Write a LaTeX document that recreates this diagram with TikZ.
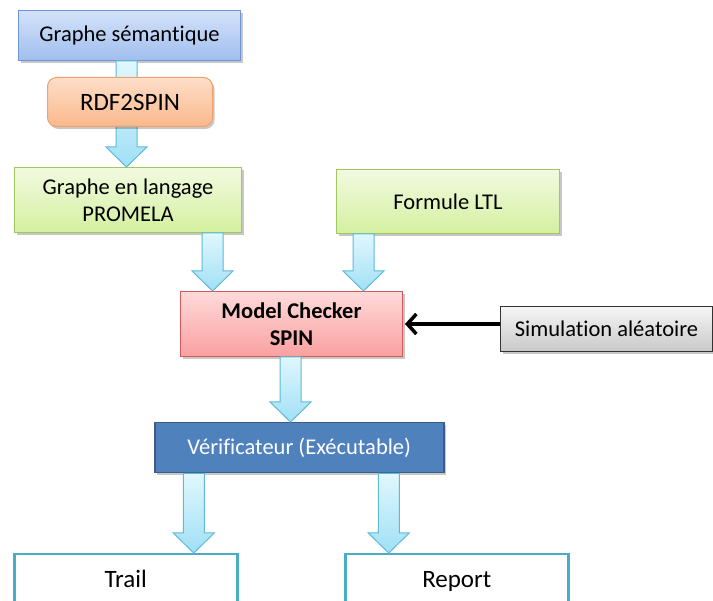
\documentclass[tikz,border=0pt]{standalone}
\usepackage{fontspec}
\setmainfont{Carlito}[Ligatures=NoCommon]
\usetikzlibrary{calc,shadows,arrows.meta}

\definecolor{bleuhaut}{RGB}{212,226,250}
\definecolor{bleubas}{RGB}{160,190,238}
\definecolor{bleubord}{RGB}{110,150,215}
\definecolor{orhaut}{RGB}{253,222,200}
\definecolor{orbas}{RGB}{250,184,140}
\definecolor{orbord}{RGB}{240,160,105}
\definecolor{verthaut}{RGB}{242,250,225}
\definecolor{vertbas}{RGB}{212,240,160}
\definecolor{vertbord}{RGB}{160,200,95}
\definecolor{rosehaut}{RGB}{255,218,218}
\definecolor{rosebas}{RGB}{250,160,160}
\definecolor{rosebord}{RGB}{210,90,90}
\definecolor{grishaut}{RGB}{246,246,246}
\definecolor{grisbas}{RGB}{200,200,200}
\definecolor{verif}{RGB}{79,129,189}
\definecolor{verifbord}{RGB}{56,93,138}
\definecolor{cyanhaut}{RGB}{224,247,253}
\definecolor{cyanbas}{RGB}{160,224,246}
\definecolor{cyanbord}{RGB}{95,185,215}
\definecolor{sortie}{RGB}{75,172,198}

\tikzset{
  boite/.style={draw, line width=1pt, align=center, inner sep=0pt, anchor=north west,
    font=\fontsize{22.5}{27}\selectfont},
  ombre/.style={drop shadow={shadow xshift=2pt,shadow yshift=-2.5pt,fill=black,opacity=0.22}},
  sortiebox/.style={boite, draw=sortie, fill=white, line width=2.5pt, text height=17pt, text depth=5pt,
    minimum width=223, minimum height=55, font=\fontsize{25}{30}\selectfont},
  flechebleue/.style={draw=cyanbord, line width=1pt, top color=cyanhaut, bottom color=cyanbas, line join=miter},
}

% grosse fleche verticale de #1 vers #2
\newcommand{\grossefleche}[2]{%
  \draw[flechebleue] ($(#1)+(-10.5,0)$) -- ($(#2)+(-10.5,-20)$) -- ($(#2)+(-20.5,-20)$) -- (#2)
    -- ($(#2)+(20.5,-20)$) -- ($(#2)+(10.5,-20)$) -- ($(#1)+(10.5,0)$) -- cycle;}

\begin{document}
\begin{tikzpicture}[x=1pt,y=-1pt]
\useasboundingbox (0,0) rectangle (713,601);

%boxes
\node[boite, ombre, draw=bleubord, top color=bleuhaut, bottom color=bleubas,
  minimum width=222, minimum height=50] (sem) at (18,10) {Graphe sémantique};
\node[boite, ombre, draw=vertbord, top color=verthaut, bottom color=vertbas,
  minimum width=227, minimum height=65] (promela) at (14,167) {Graphe en langage\\PROMELA};
\node[boite, ombre, draw=vertbord, top color=verthaut, bottom color=vertbas,
  minimum width=223, minimum height=64] (ltl) at (336,169) {Formule LTL};
\node[boite, ombre, draw=rosebord, top color=rosehaut, bottom color=rosebas,
  minimum width=222, minimum height=65, font=\fontsize{22.5}{27}\selectfont\bfseries] (model) at (180,291) {Model Checker\\SPIN};
\node[boite, ombre, draw=black!80, top color=grishaut, bottom color=grisbas,
  minimum width=212, minimum height=45] (sim) at (500,306) {Simulation aléatoire};
\node[boite, ombre, draw=verifbord, fill=verif, text=white, line width=1.5pt,
  minimum width=289, minimum height=50] (verif) at (154,422) {Vérificateur (Exécutable)};
\node[sortiebox] (trail) at (13,553) {Trail};
\node[sortiebox] (report) at (344,553) {Report};

%arrows
\coordinate (f1a) at ([xshift=-3pt]sem.south);
\coordinate (f1b) at (f1a |- promela.north);
\grossefleche{f1a}{f1b}

\node[boite, ombre, draw=orbord, top color=orhaut, bottom color=orbas, rounded corners=9pt,
  minimum width=165, minimum height=49, font=\fontsize{25}{30}\selectfont] (rdf) at (47,77) {RDF2SPIN};

\coordinate (f2a) at ([xshift=84.5pt]promela.south);
\coordinate (f2b) at (f2a |- model.north);
\grossefleche{f2a}{f2b}

\coordinate (f3a) at ([xshift=-84.5pt]ltl.south);
\coordinate (f3b) at (f3a |- model.north);
\grossefleche{f3a}{f3b}

\coordinate (f4a) at ([xshift=-1pt]model.south);
\coordinate (f4b) at (f4a |- verif.north);
\grossefleche{f4a}{f4b}

\coordinate (f5a) at ([xshift=-105.5pt]verif.south);
\coordinate (f5b) at (f5a |- trail.north);
\grossefleche{f5a}{f5b}

\coordinate (f6a) at ([xshift=89.5pt]verif.south);
\coordinate (f6b) at (f6a |- report.north);
\grossefleche{f6a}{f6b}

\draw[line width=3.5pt, -{Straight Barb[length=9pt,width=20pt]}] (model.east -| sim.west) -- ([xshift=2pt]model.east);

\end{tikzpicture}
\end{document}
